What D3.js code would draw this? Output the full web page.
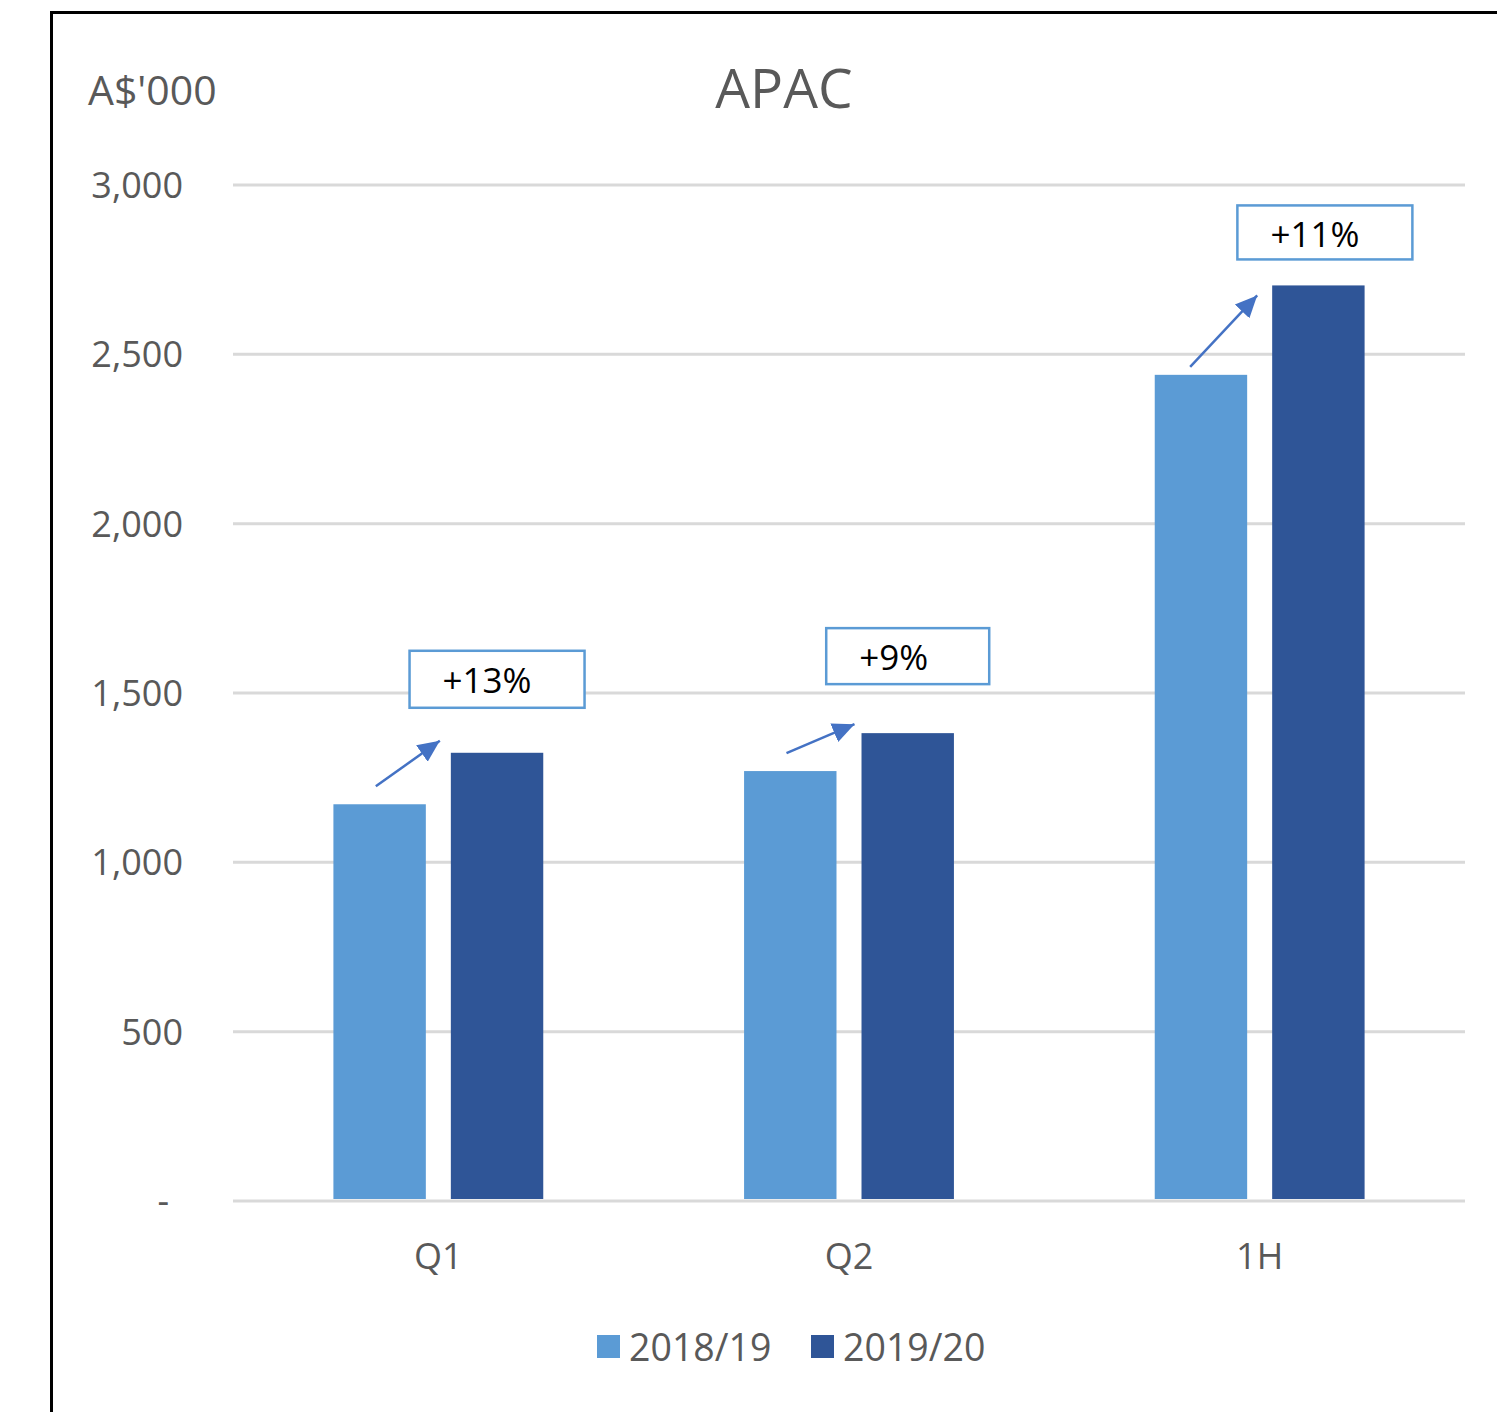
<!DOCTYPE html>
<html>
<head>
<meta charset="utf-8">
<script src="https://cdn.jsdelivr.net/npm/d3@7"></script>
<style>
  html, body { margin: 0; padding: 0; background: #fff; }
  svg { display: block; }
  text { font-family: "Open Sans", "Noto Sans", sans-serif; }
</style>
</head>
<body>
<svg id="chart" width="1497" height="1412"></svg>
<script>
// ---- data ----
const categories = ["Q1", "Q2", "1H"];
const seriesNames = ["2018/19", "2019/20"];
const values2018 = [1170, 1268, 2438];
const values2019 = [1322, 1380, 2702];
const yTicks = [0, 500, 1000, 1500, 2000, 2500, 3000];
const yTickLabels = ["-", "500", "1,000", "1,500", "2,000", "2,500", "3,000"];
const seriesColors = ["#5B9BD5", "#2F5597"];

// growth call-out layout (offsets relative to the bars they annotate)
const callouts = [
  { cat: "Q1", boxW: 175, boxH: 57, boxDy: -102, boxDx: 0,   start: [-50, -18], end: [-11, -12] },
  { cat: "Q2", boxW: 163, boxH: 56, boxDy: -105, boxDx: 0,   start: [-50, -18], end: [-7, -9] },
  { cat: "1H", boxW: 175, boxH: 54, boxDy: -80,  boxDx: 6.5, start: [-57, -8],  end: [-15, 10] }
];

const svg = d3.select("#chart");
const W = 1497, H = 1412;
const plot = { left: 233, right: 1465, top: 184.5, bottom: 1200.5 };

// outer frame (open on the right and bottom edges)
svg.append("path")
  .attr("d", `M51.5,${H} L51.5,12.5 L${W},12.5`)
  .attr("fill", "none").attr("stroke", "#000").attr("stroke-width", 3);

const x = d3.scaleBand().domain(categories)
  .range([plot.left, plot.right]).paddingInner(0.489).paddingOuter(0.2445);
const xSub = d3.scaleBand().domain(seriesNames)
  .range([0, x.bandwidth()]).paddingInner(0.213);
const y = d3.scaleLinear().domain([0, 3000]).range([plot.bottom, plot.top]);

// gridlines
const grid = svg.append("g").attr("transform", `translate(${plot.left},0)`)
  .call(d3.axisLeft(y).tickValues(yTicks).tickSize(-(plot.right - plot.left)).tickFormat(""));
grid.select(".domain").remove();
grid.selectAll(".tick line").attr("stroke", "#d9d9d9").attr("stroke-width", 3);

// y axis labels
const yAxis = svg.append("g").attr("transform", `translate(183,0)`)
  .call(d3.axisLeft(y).tickValues(yTicks).tickSize(0).tickPadding(0)
    .tickFormat((d, i) => yTickLabels[i]));
yAxis.select(".domain").remove();
yAxis.selectAll(".tick text")
  .attr("font-family", "Open Sans").attr("font-size", 36).attr("fill", "#595959")
  .attr("dy", "0.36em")
  .attr("dx", d => d === 0 ? -14 : 0);

// bars
const rows = categories.map((c, i) => ({ cat: c, vals: [values2018[i], values2019[i]] }));
const groups = svg.append("g").selectAll("g").data(rows).join("g")
  .attr("transform", d => `translate(${x(d.cat)},0)`);
groups.selectAll("rect")
  .data(d => d.vals.map((v, j) => ({ key: seriesNames[j], v, j })))
  .join("rect")
  .attr("x", d => xSub(d.key))
  .attr("width", xSub.bandwidth())
  .attr("y", d => y(d.v))
  .attr("height", d => y(0) - y(d.v) - 1.5)
  .attr("fill", d => seriesColors[d.j]);

// x axis labels
const xAxis = svg.append("g").attr("transform", `translate(0,1269)`)
  .call(d3.axisBottom(x).tickSize(0).tickPadding(0));
xAxis.select(".domain").remove();
xAxis.selectAll(".tick text")
  .attr("font-family", "Open Sans").attr("font-size", 36).attr("fill", "#595959")
  .attr("dy", 0);

// title and unit label
svg.append("text").attr("x", 784).attr("y", 108).attr("text-anchor", "middle")
  .attr("font-size", 55).attr("fill", "#595959").text("APAC");
svg.append("text").attr("x", 88).attr("y", 105)
  .attr("font-size", 41).attr("fill", "#595959").text("A$'000");

// growth call-outs
svg.append("defs").append("marker")
  .attr("id", "arrowhead").attr("markerUnits", "userSpaceOnUse")
  .attr("markerWidth", 24).attr("markerHeight", 24)
  .attr("viewBox", "0 0 24 24").attr("refX", 22).attr("refY", 12)
  .attr("orient", "auto")
  .append("path").attr("d", "M0,2 L22,12 L0,22 Z").attr("fill", "#4472C4");

callouts.forEach(c => {
  const i = categories.indexOf(c.cat);
  const a = values2018[i], b = values2019[i];
  const pct = Math.round((b / a - 1) * 100);
  const lightRight = x(c.cat) + xSub(seriesNames[0]) + xSub.bandwidth();
  const darkLeft = x(c.cat) + xSub(seriesNames[1]);
  const darkCenter = darkLeft + xSub.bandwidth() / 2;
  const bx = darkCenter + c.boxDx - c.boxW / 2;
  const by = y(b) + c.boxDy;

  svg.append("rect").attr("x", bx).attr("y", by)
    .attr("width", c.boxW).attr("height", c.boxH)
    .attr("fill", "#fff").attr("stroke", "#5B9BD5").attr("stroke-width", 2.5);
  svg.append("text").attr("x", bx + 33).attr("y", by + 42)
    .attr("font-size", 35).attr("fill", "#000")
    .text((pct >= 0 ? "+" : "") + pct + "%");

  svg.append("line")
    .attr("x1", lightRight + c.start[0]).attr("y1", y(a) + c.start[1])
    .attr("x2", darkLeft + c.end[0]).attr("y2", y(b) + c.end[1])
    .attr("stroke", "#4472C4").attr("stroke-width", 2.5)
    .attr("marker-end", "url(#arrowhead)");
});

// legend
const legend = svg.append("g");
const legendX = [597, 811];
seriesNames.forEach((name, j) => {
  legend.append("rect").attr("x", legendX[j]).attr("y", 1335)
    .attr("width", 23).attr("height", 23).attr("fill", seriesColors[j]);
  legend.append("text").attr("x", legendX[j] + 32).attr("y", 1361)
    .attr("font-size", 37.5).attr("fill", "#595959").text(name);
});
</script>
</body>
</html>
